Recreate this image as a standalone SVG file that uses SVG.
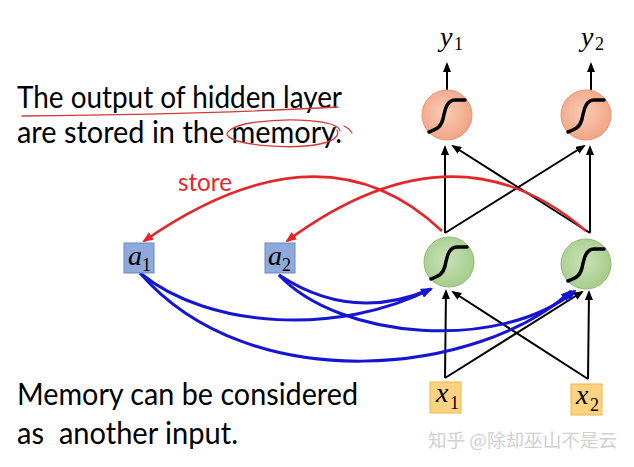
<svg xmlns="http://www.w3.org/2000/svg" width="634" height="467" viewBox="0 0 634 467">
<defs>
<radialGradient id="gOr" cx="0.45" cy="0.45" r="0.6"><stop offset="0" stop-color="#f9cdb6"/><stop offset="1" stop-color="#f1a183"/></radialGradient>
<radialGradient id="gGr" cx="0.45" cy="0.45" r="0.6"><stop offset="0" stop-color="#c9e2b8"/><stop offset="1" stop-color="#a3cb88"/></radialGradient>
<marker id="mk" markerUnits="userSpaceOnUse" viewBox="0 0 10 8" refX="8" refY="4" markerWidth="10" markerHeight="8" orient="auto"><path d="M0,0 L10,4 L0,8 Z" fill="#000"/></marker>
<marker id="mr" markerUnits="userSpaceOnUse" viewBox="0 0 11 9" refX="9" refY="4.5" markerWidth="11" markerHeight="9" orient="auto"><path d="M0,0 L11,4.5 L0,9 Z" fill="#e3262a"/></marker>
<marker id="mb" markerUnits="userSpaceOnUse" viewBox="0 0 12 9" refX="10" refY="4.5" markerWidth="12" markerHeight="9" orient="auto"><path d="M0,0 L12,4.5 L0,9 Z" fill="#1616d2"/></marker>
<path id="sig" d="M-18,17 C-10,14 -6,12 -4,4 C-2,-6 0,-15 8,-15 L18,-15"/>
</defs>
<style>
.txt{font-family:Lato,"Open Sans","Liberation Sans",sans-serif;font-size:30px;fill:#000}
.var{font-family:"Liberation Serif","DejaVu Serif",serif;font-style:italic;font-size:28px;fill:#000}
.sub{font-family:"Liberation Serif","DejaVu Serif",serif;font-size:18px;fill:#000}
.org{fill:url(#gOr);stroke:#e8946f;stroke-width:1}
.grn{fill:url(#gGr);stroke:#8db872;stroke-width:1}
.sg{fill:none;stroke:#000;stroke-width:3.5;stroke-linecap:round;stroke-linejoin:round}
.mem{fill:#8eaadb;stroke:#6b89c2;stroke-width:1}
.inp{fill:#fdd382;stroke:#f0b44a;stroke-width:1}
.bk{fill:none;stroke:#000;stroke-width:2;marker-end:url(#mk)}
.rd{fill:none;stroke:#e3262a;stroke-width:2.5;marker-end:url(#mr)}
.bl{fill:none;stroke:#1616d2;stroke-width:3;marker-end:url(#mb)}
.ann{fill:none;stroke:#d23a3a;stroke-width:1.3;stroke-linecap:round}
</style>
<rect width="634" height="467" fill="#fff"/>

<g id="text-top">
<text class="txt" x="17" y="108" textLength="325" lengthAdjust="spacingAndGlyphs">The output of hidden layer</text>
<text class="txt" x="17" y="143" textLength="325" lengthAdjust="spacingAndGlyphs">are stored in the memory.</text>
<path class="ann" d="M22,116 C110,115 250,112 338,107"/>
<path class="ann" d="M340,131 C338,120 290,117 250,123 C232,126 224,133 228,136 C236,145 290,150 320,144 C334,141 340,136 337,130"/>
<path class="ann" d="M344,126 Q349,128 352,133"/>
</g>
<g id="text-bottom">
<text class="txt" x="17" y="405" textLength="341" lengthAdjust="spacingAndGlyphs">Memory can be considered</text>
<text class="txt" x="17" y="444" textLength="221" lengthAdjust="spacingAndGlyphs" xml:space="preserve">as  another input.</text>
</g>

<g id="connectors">
<path class="bk" d="M447,90 L447,64"/>
<path class="bk" d="M591,90 L591,64"/>
<path class="bk" d="M445,233 L445,147"/>
<path class="bk" d="M445,233 L584,146"/>
<path class="bk" d="M590,233 L590,147"/>
<path class="bk" d="M590,233 L453,146"/>
<path class="bk" d="M445,378 L446,291"/>
<path class="bk" d="M445,378 L582,292"/>
<path class="bk" d="M588,379 L589,292"/>
<path class="bk" d="M588,379 L453,292"/>
<path class="rd" d="M442,231 Q322,117.5 144,241"/>
<path class="rd" d="M586,231 Q454.5,117.5 287,241"/>
<path class="bl" d="M140,273 C210,330 340,335 431,289"/>
<path class="bl" d="M140,273 C250,400 480,375 571,291"/>
<path class="bl" d="M279,275 C320,302 370,315 431,289"/>
<path class="bl" d="M279,275 C340,340 500,352 575,291"/>
<text x="178" y="191" fill="#e3262a" font-family="Lato,'Open Sans','Liberation Sans',sans-serif" font-size="25" textLength="54" lengthAdjust="spacingAndGlyphs">store</text>
</g>

<g id="y1"><text class="var" x="440" y="46">y</text><text class="sub" x="454" y="50">1</text></g>
<g id="y2"><text class="var" x="581" y="46">y</text><text class="sub" x="595" y="50">2</text></g>

<g id="o1"><circle class="org" cx="447" cy="115" r="25"/><use href="#sig" class="sg" x="447" y="115"/></g>
<g id="o2"><circle class="org" cx="586" cy="115" r="25"/><use href="#sig" class="sg" x="586" y="115"/></g>

<g id="h1"><circle class="grn" cx="449" cy="262" r="25"/><use href="#sig" class="sg" x="449" y="262"/></g>
<g id="h2"><circle class="grn" cx="586" cy="264" r="25"/><use href="#sig" class="sg" x="586" y="264"/></g>

<g id="a1"><rect class="mem" x="124" y="243" width="30" height="30"/><text class="var" x="128" y="265">a</text><text class="sub" x="142" y="271">1</text></g>
<g id="a2"><rect class="mem" x="265" y="243" width="30" height="30"/><text class="var" x="268" y="265">a</text><text class="sub" x="282" y="271">2</text></g>

<g id="x1"><rect class="inp" x="430" y="382" width="31" height="31"/><text class="var" x="436" y="402">x</text><text class="sub" x="450" y="409">1</text></g>
<g id="x2"><rect class="inp" x="571" y="384" width="31" height="31"/><text class="var" x="576" y="404">x</text><text class="sub" x="590" y="411">2</text></g>

<g id="watermark"><text x="428" y="447" font-family="'Noto Sans CJK SC',sans-serif" font-size="18" fill="#d0d0d0" textLength="189" lengthAdjust="spacingAndGlyphs">知乎 @除却巫山不是云</text></g>
</svg>
